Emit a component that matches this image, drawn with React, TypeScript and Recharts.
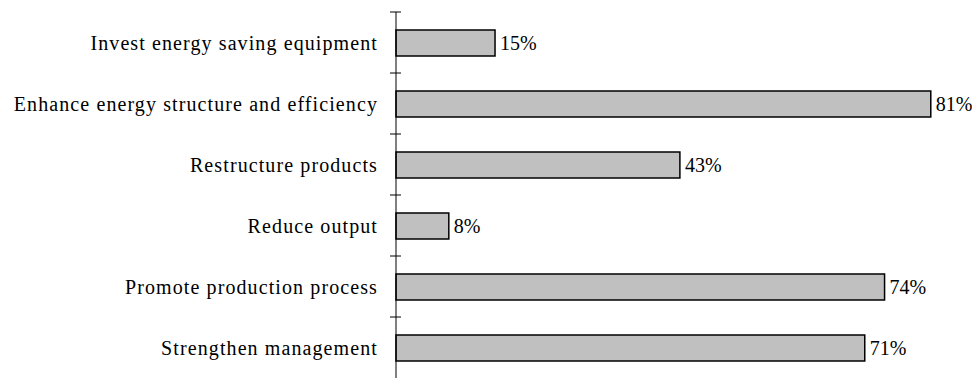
import { BarChart, Bar, XAxis, YAxis, LabelList } from "recharts";

// measures and their share of responding firms
const measures = [
  "Invest energy saving equipment",
  "Enhance energy structure and efficiency",
  "Restructure products",
  "Reduce output",
  "Promote production process",
  "Strengthen management",
];
const shares = [15, 81, 43, 8, 74, 71];

const data = measures.map((name, i) => ({ name, value: shares[i] }));

const FONT = '"Liberation Serif", "Times New Roman", serif';
const CHART_W = 969;
const CHART_H = 370;
const MARGIN = { top: 4, right: 0, bottom: 0, left: 0 };
const PLOT_H = CHART_H - MARGIN.top - MARGIN.bottom;
const HALF_BAND = PLOT_H / measures.length / 2;

// label on the left, plus a small cross tick at the top edge of each band
const CategoryTick = (props: any) => {
  const { x, y, payload } = props;
  return (
    <g>
      <line x1={x - 6} x2={x + 5} y1={y - HALF_BAND} y2={y - HALF_BAND} stroke="#000" />
      <text
        x={x - 18}
        y={y}
        dy="0.355em"
        textAnchor="end"
        fontFamily={FONT}
        fontSize={20}
        letterSpacing={1.1}
        fill="#000"
      >
        {payload.value}
      </text>
    </g>
  );
};

export default function App() {
  return (
    <BarChart
      width={CHART_W}
      height={CHART_H}
      data={data}
      layout="vertical"
      margin={MARGIN}
      barCategoryGap={35}
    >
      <XAxis type="number" domain={[0, 88]} hide />
      <YAxis
        type="category"
        dataKey="name"
        width={388}
        axisLine={{ stroke: "#000" }}
        tickLine={false}
        tickSize={0}
        tickMargin={0}
        tick={<CategoryTick />}
        interval={0}
      />
      <Bar
        dataKey="value"
        fill="#c0c0c0"
        stroke="#000"
        strokeWidth={1.5}
        barSize={26}
        isAnimationActive={false}
      >
        <LabelList
          dataKey="value"
          position="right"
          offset={5}
          formatter={(v: any) => `${v}%`}
          style={{ fontFamily: FONT, fontSize: 20, fill: "#000" }}
        />
      </Bar>
    </BarChart>
  );
}
